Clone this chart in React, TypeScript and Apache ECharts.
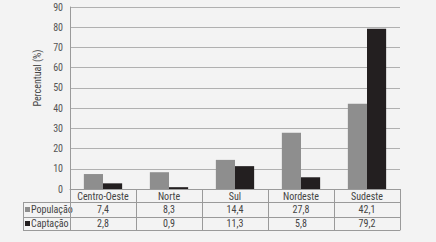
import React, { useEffect, useRef } from "react";
import * as echarts from "echarts";

const categories = ["Centro-Oeste", "Norte", "Sul", "Nordeste", "Sudeste"];
const populacao = [7.4, 8.3, 14.4, 27.8, 42.1];
const captacao = [2.8, 0.9, 11.3, 5.8, 79.2];
const popLabels = ["7,4", "8,3", "14,4", "27,8", "42,1"];
const capLabels = ["2,8", "0,9", "11,3", "5,8", "79,2"];
const seriesNames = ["População", "Captação"];
const seriesColors = ["#8e8e8e", "#231f20"];
const yTicks = { min: 0, max: 90, interval: 10 };

const W = 436;
const H = 242;
const GRID = { left: 70, right: 36, top: 7, bottom: 53 };
const ROW = [13, 15, 13];
const TABLE_LEFT = 23;
const FONT = "'Roboto Condensed', 'DejaVu Sans', sans-serif";
const FS = 10;
const LINE = "#9a9a9a";
const TEXT = "#444";

export default function App() {
  const ref = useRef<HTMLDivElement>(null);
  useEffect(() => {
    document.body.style.margin = "0";
    const chart = echarts.init(ref.current!, null, { renderer: "svg" });
    const axisY0 = H - GRID.bottom;
    const off1 = ROW[0];
    const off2 = ROW[0] + ROW[1];
    const off3 = ROW[0] + ROW[1] + ROW[2];
    const rowMid = [axisY0 + (off1 + off2) / 2, axisY0 + (off2 + off3) / 2];
    const baseX = (offset: number, labels: string[] | null, tickLen: number, margin: number) => ({
      type: "category",
      data: categories,
      gridIndex: 0,
      position: "bottom",
      offset,
      boundaryGap: true,
      axisLine: { show: true, lineStyle: { color: LINE, width: 1 } },
      axisTick: { show: tickLen > 0, length: tickLen, lineStyle: { color: LINE, width: 1 } },
      axisLabel: {
        show: true,
        interval: 0,
        margin,
        fontSize: FS,
        fontFamily: FONT,
        color: TEXT,
        formatter: labels ? (_v: string, idx: number) => labels[idx] : (v: string) => v,
      },
      splitLine: { show: false },
    });
    const legendItems = seriesNames.flatMap((name, i) => [
      {
        type: "rect",
        shape: { x: TABLE_LEFT + 2, y: rowMid[i] - 2.5, width: 5, height: 5 },
        style: { fill: seriesColors[i] },
      },
      {
        type: "text",
        x: TABLE_LEFT + 8,
        y: rowMid[i],
        style: { text: name, fontSize: FS, fontFamily: FONT, fill: TEXT, align: "left", verticalAlign: "middle" },
      },
    ]);
    chart.setOption({
      animation: false,
      backgroundColor: "#f3f3f3",
      textStyle: { fontFamily: FONT },
      grid: { ...GRID },
      xAxis: [
        baseX(0, null, ROW[0], 2),
        baseX(off1, popLabels, ROW[1], 2),
        baseX(off2, capLabels, ROW[2], 1),
        { ...baseX(off3, null, 0, 0), axisLabel: { show: false } },
      ],
      yAxis: {
        type: "value",
        ...yTicks,
        axisLine: { show: true, lineStyle: { color: LINE } },
        axisTick: { show: false },
        axisLabel: { fontSize: FS, fontFamily: FONT, color: "#555", margin: 7 },
        splitLine: { show: true, lineStyle: { color: "#b0b0b0", width: 1 } },
      },
      series: seriesNames.map((name, i) => ({
        name,
        type: "bar",
        data: i === 0 ? populacao : captacao,
        barGap: "0%",
        barCategoryGap: "42%",
        itemStyle: { color: seriesColors[i] },
      })),
      graphic: [
        {
          type: "text",
          x: 37,
          y: 78,
          rotation: Math.PI / 2,
          style: {
            text: "Percentual (%)",
            fontSize: FS,
            fontFamily: FONT,
            fill: "#444",
            align: "center",
            verticalAlign: "middle",
          },
        },
        ...legendItems,
        ...[off1, off2, off3].map((o) => ({
          type: "line",
          shape: { x1: TABLE_LEFT, y1: axisY0 + o + 0.5, x2: GRID.left, y2: axisY0 + o + 0.5 },
          style: { stroke: LINE, lineWidth: 1 },
        })),
        {
          type: "line",
          shape: { x1: TABLE_LEFT + 0.5, y1: axisY0 + off1, x2: TABLE_LEFT + 0.5, y2: axisY0 + off3 },
          style: { stroke: LINE, lineWidth: 1 },
        },
      ],
    });
    return () => chart.dispose();
  }, []);
  return <div ref={ref} style={{ position: "fixed", left: 0, top: 0, width: W, height: H }} />;
}
